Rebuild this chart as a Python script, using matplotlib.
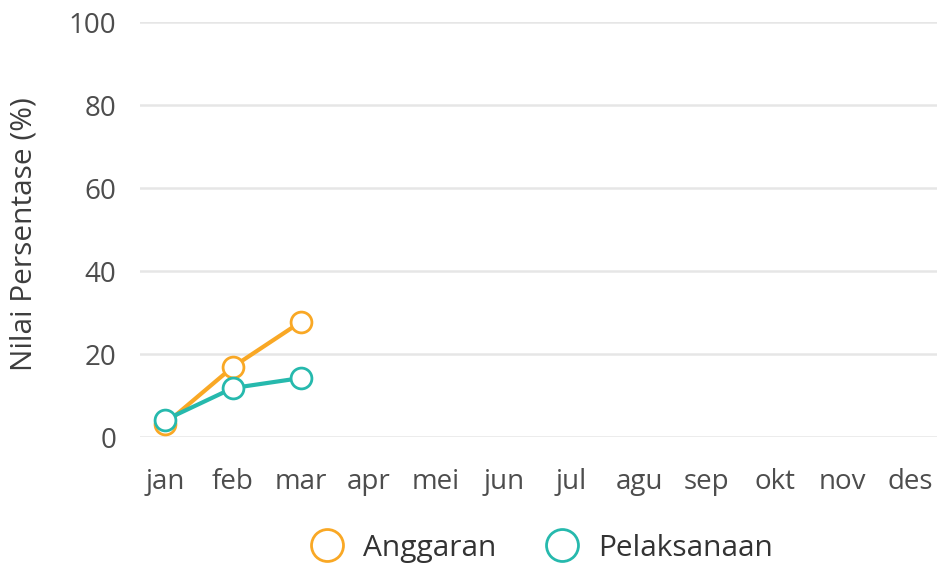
import matplotlib
matplotlib.use("Agg")
import matplotlib.pyplot as plt
from matplotlib.lines import Line2D

months = ["jan", "feb", "mar", "apr", "mei", "jun", "jul", "agu", "sep", "okt", "nov", "des"]
anggaran = [3.1, 16.9, 27.7]
pelaksanaan = [4.1, 11.8, 14.2]
yticks = [0, 20, 40, 60, 80, 100]

c_ang = "#f9a825"
c_pel = "#26b9ad"

plt.rcParams['font.family'] = ['Open Sans', 'DejaVu Sans']
fig = plt.figure(figsize=(9.4, 5.68), dpi=100)
ax = fig.add_axes([0.149, 0.2306, 0.848, 0.7306])

ax.plot(range(len(anggaran)), anggaran, color=c_ang, lw=3, marker='o', ms=15,
        mfc='white', mec=c_ang, mew=2, zorder=3)
ax.plot(range(len(pelaksanaan)), pelaksanaan, color=c_pel, lw=3, marker='o', ms=15,
        mfc='white', mec=c_pel, mew=2, zorder=4)

ax.set_xlim(-0.37, 11.4)
ax.set_ylim(0, 100)
ax.set_xticks(range(len(months)))
ax.set_xticklabels(months)
ax.set_yticks(yticks)
ax.tick_params(axis='both', length=0, labelsize=20, colors='#4d4d4d')
ax.tick_params(axis='x', pad=22)
ax.tick_params(axis='y', pad=17)
ax.grid(axis='y', color='#e6e6e6', lw=1.8)
ax.set_axisbelow(True)
for s in ax.spines.values():
    s.set_visible(False)
ax.set_ylabel("Nilai Persentase (%)", fontsize=21.5, color='#3d3d3d')
ax.yaxis.set_label_coords(-0.128, 0.49)
for l in ax.lines:
    l.set_clip_on(False)

handles = [Line2D([], [], ls='none', marker='o', ms=23, mfc='white', mec=c_ang, mew=2),
           Line2D([], [], ls='none', marker='o', ms=23, mfc='white', mec=c_pel, mew=2)]
fig.legend(handles, ["Anggaran", "Pelaksanaan"], loc='center', bbox_to_anchor=(0.569, 0.035),
           ncol=2, frameon=False, fontsize=21.5, handletextpad=0.2, columnspacing=1.2,
           labelcolor='#333333')

fig.savefig("out.png", dpi=100)
